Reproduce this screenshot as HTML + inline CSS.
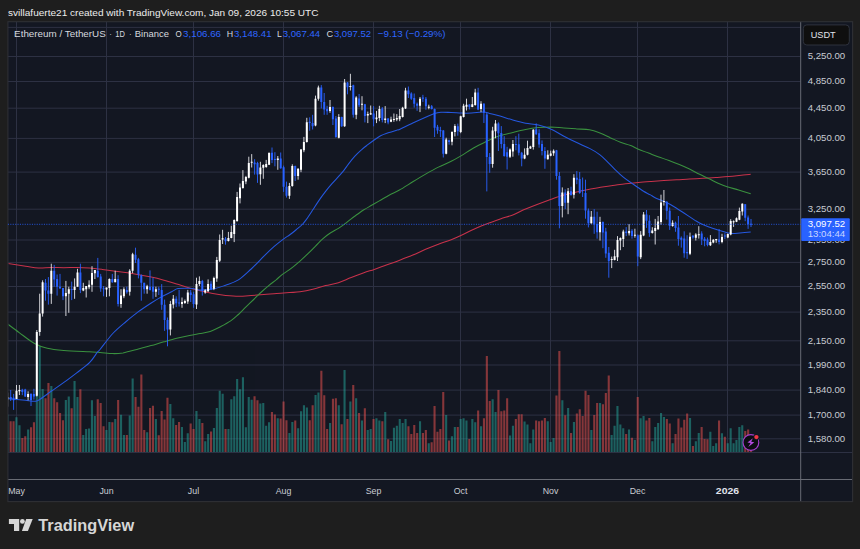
<!DOCTYPE html>
<html><head><meta charset="utf-8"><title>ETHUSDT Chart</title>
<style>html,body{margin:0;padding:0;background:#1e1e1e;width:860px;height:549px;overflow:hidden}</style>
</head><body>
<svg width="860" height="549" viewBox="0 0 860 549" style="position:absolute;left:0;top:0;font-family:'Liberation Sans',sans-serif">
<rect x="0" y="0" width="860" height="549" fill="#1e1e1e"/>
<rect x="7.9" y="21.7" width="844.7" height="479.90000000000003" fill="#131722"/>
<path d="M7.9 27.4H800.7M7.9 56.5H800.7M7.9 81.5H800.7M7.9 108.2H800.7M7.9 138.4H800.7M7.9 172.1H800.7M7.9 209.2H800.7M7.9 240.0H800.7M7.9 262.4H800.7M7.9 286.5H800.7M7.9 312.1H800.7M7.9 340.8H800.7M7.9 365.0H800.7M7.9 390.1H800.7M7.9 415.1H800.7M7.9 438.8H800.7M16.5 21.7V452.5M106.5 21.7V452.5M193.5 21.7V452.5M283.5 21.7V452.5M373.5 21.7V452.5M460.5 21.7V452.5M550.5 21.7V452.5M637.5 21.7V452.5M727.5 21.7V452.5" stroke="#2d3143" stroke-width="1" fill="none"/>
<defs><clipPath id="cc"><rect x="8.4" y="21.7" width="792.3000000000001" height="457.8"/></clipPath></defs>
<g clip-path="url(#cc)" opacity="0.52"><path d="M6.7 414.4h2.1V452h-2.1ZM15.4 417.2h2.1V452h-2.1ZM18.4 425.3h2.1V452h-2.1ZM27.1 429.5h2.1V452h-2.1ZM35.8 390.0h2.1V452h-2.1ZM38.7 345.9h2.1V452h-2.1ZM41.6 389.1h2.1V452h-2.1ZM50.3 386.0h2.1V452h-2.1ZM64.8 400.1h2.1V452h-2.1ZM67.7 396.5h2.1V452h-2.1ZM73.5 381.0h2.1V452h-2.1ZM76.4 397.1h2.1V452h-2.1ZM82.2 435.1h2.1V452h-2.1ZM85.1 429.1h2.1V452h-2.1ZM88.0 428.5h2.1V452h-2.1ZM90.9 400.3h2.1V452h-2.1ZM93.8 415.9h2.1V452h-2.1ZM105.4 430.0h2.1V452h-2.1ZM108.4 422.1h2.1V452h-2.1ZM114.2 419.1h2.1V452h-2.1ZM120.0 414.7h2.1V452h-2.1ZM122.9 434.9h2.1V452h-2.1ZM128.7 415.4h2.1V452h-2.1ZM131.6 378.5h2.1V452h-2.1ZM146.1 432.3h2.1V452h-2.1ZM154.8 419.1h2.1V452h-2.1ZM169.3 403.9h2.1V452h-2.1ZM172.2 418.2h2.1V452h-2.1ZM180.9 426.9h2.1V452h-2.1ZM183.8 441.9h2.1V452h-2.1ZM186.7 433.3h2.1V452h-2.1ZM195.4 411.0h2.1V452h-2.1ZM198.4 419.1h2.1V452h-2.1ZM204.2 441.3h2.1V452h-2.1ZM207.1 434.0h2.1V452h-2.1ZM212.9 428.1h2.1V452h-2.1ZM215.8 408.0h2.1V452h-2.1ZM218.7 390.8h2.1V452h-2.1ZM221.6 393.7h2.1V452h-2.1ZM227.4 429.1h2.1V452h-2.1ZM230.3 399.3h2.1V452h-2.1ZM233.2 396.3h2.1V452h-2.1ZM236.1 379.0h2.1V452h-2.1ZM239.0 389.2h2.1V452h-2.1ZM241.9 377.2h2.1V452h-2.1ZM244.8 427.2h2.1V452h-2.1ZM247.7 397.1h2.1V452h-2.1ZM250.6 399.7h2.1V452h-2.1ZM259.3 403.5h2.1V452h-2.1ZM262.2 402.9h2.1V452h-2.1ZM265.1 425.7h2.1V452h-2.1ZM268.0 422.3h2.1V452h-2.1ZM276.7 418.2h2.1V452h-2.1ZM288.4 433.0h2.1V452h-2.1ZM291.3 422.1h2.1V452h-2.1ZM297.1 428.2h2.1V452h-2.1ZM300.0 411.2h2.1V452h-2.1ZM302.9 405.2h2.1V452h-2.1ZM305.8 407.4h2.1V452h-2.1ZM314.5 395.0h2.1V452h-2.1ZM317.4 392.4h2.1V452h-2.1ZM329.0 423.1h2.1V452h-2.1ZM337.7 405.2h2.1V452h-2.1ZM343.5 370.0h2.1V452h-2.1ZM349.3 401.4h2.1V452h-2.1ZM355.1 398.2h2.1V452h-2.1ZM360.9 420.4h2.1V452h-2.1ZM366.7 430.0h2.1V452h-2.1ZM369.6 429.1h2.1V452h-2.1ZM375.4 418.2h2.1V452h-2.1ZM378.3 420.4h2.1V452h-2.1ZM384.2 411.9h2.1V452h-2.1ZM390.0 440.9h2.1V452h-2.1ZM392.9 427.8h2.1V452h-2.1ZM395.8 425.7h2.1V452h-2.1ZM398.7 419.1h2.1V452h-2.1ZM401.6 423.1h2.1V452h-2.1ZM404.5 419.1h2.1V452h-2.1ZM419.0 421.2h2.1V452h-2.1ZM427.7 443.2h2.1V452h-2.1ZM445.1 415.1h2.1V452h-2.1ZM450.9 436.2h2.1V452h-2.1ZM453.8 426.9h2.1V452h-2.1ZM459.6 419.1h2.1V452h-2.1ZM462.5 418.2h2.1V452h-2.1ZM465.4 420.4h2.1V452h-2.1ZM471.3 419.1h2.1V452h-2.1ZM474.2 422.3h2.1V452h-2.1ZM480.0 426.2h2.1V452h-2.1ZM491.6 399.3h2.1V452h-2.1ZM494.5 412.1h2.1V452h-2.1ZM509.0 435.5h2.1V452h-2.1ZM511.9 425.7h2.1V452h-2.1ZM523.5 421.4h2.1V452h-2.1ZM526.4 424.4h2.1V452h-2.1ZM529.3 443.2h2.1V452h-2.1ZM532.2 429.5h2.1V452h-2.1ZM546.7 421.2h2.1V452h-2.1ZM549.6 441.9h2.1V452h-2.1ZM552.5 438.1h2.1V452h-2.1ZM561.3 400.3h2.1V452h-2.1ZM567.1 408.0h2.1V452h-2.1ZM572.9 422.1h2.1V452h-2.1ZM590.3 430.0h2.1V452h-2.1ZM599.0 402.9h2.1V452h-2.1ZM610.6 434.9h2.1V452h-2.1ZM613.5 425.7h2.1V452h-2.1ZM616.4 406.1h2.1V452h-2.1ZM619.3 424.4h2.1V452h-2.1ZM622.2 428.2h2.1V452h-2.1ZM628.0 429.5h2.1V452h-2.1ZM633.8 440.0h2.1V452h-2.1ZM639.6 418.2h2.1V452h-2.1ZM642.5 416.1h2.1V452h-2.1ZM651.3 441.3h2.1V452h-2.1ZM654.2 426.9h2.1V452h-2.1ZM657.1 423.0h2.1V452h-2.1ZM660.0 413.1h2.1V452h-2.1ZM662.9 417.0h2.1V452h-2.1ZM671.6 443.2h2.1V452h-2.1ZM689.0 417.9h2.1V452h-2.1ZM694.8 441.3h2.1V452h-2.1ZM697.7 433.0h2.1V452h-2.1ZM709.3 431.7h2.1V452h-2.1ZM712.2 446.0h2.1V452h-2.1ZM715.1 443.2h2.1V452h-2.1ZM720.9 433.3h2.1V452h-2.1ZM726.7 443.2h2.1V452h-2.1ZM729.6 428.2h2.1V452h-2.1ZM732.5 443.2h2.1V452h-2.1ZM735.4 440.0h2.1V452h-2.1ZM738.3 426.9h2.1V452h-2.1ZM741.2 425.3h2.1V452h-2.1Z" fill="#26a69a"/><path d="M9.6 421.2h2.1V452h-2.1ZM12.5 421.2h2.1V452h-2.1ZM21.3 438.1h2.1V452h-2.1ZM24.2 436.2h2.1V452h-2.1ZM30.0 427.2h2.1V452h-2.1ZM32.9 422.3h2.1V452h-2.1ZM44.5 398.2h2.1V452h-2.1ZM47.4 383.0h2.1V452h-2.1ZM53.2 398.2h2.1V452h-2.1ZM56.1 402.3h2.1V452h-2.1ZM59.0 413.1h2.1V452h-2.1ZM61.9 420.2h2.1V452h-2.1ZM70.6 408.3h2.1V452h-2.1ZM79.3 389.2h2.1V452h-2.1ZM96.7 399.3h2.1V452h-2.1ZM99.6 402.9h2.1V452h-2.1ZM102.5 426.2h2.1V452h-2.1ZM111.3 422.3h2.1V452h-2.1ZM117.1 400.1h2.1V452h-2.1ZM125.8 434.9h2.1V452h-2.1ZM134.5 397.1h2.1V452h-2.1ZM137.4 406.7h2.1V452h-2.1ZM140.3 374.6h2.1V452h-2.1ZM143.2 430.0h2.1V452h-2.1ZM149.0 408.0h2.1V452h-2.1ZM151.9 405.8h2.1V452h-2.1ZM157.7 435.3h2.1V452h-2.1ZM160.6 411.0h2.1V452h-2.1ZM163.5 419.5h2.1V452h-2.1ZM166.4 397.8h2.1V452h-2.1ZM175.1 425.0h2.1V452h-2.1ZM178.0 422.1h2.1V452h-2.1ZM189.6 423.4h2.1V452h-2.1ZM192.5 429.1h2.1V452h-2.1ZM201.3 423.0h2.1V452h-2.1ZM210.0 431.4h2.1V452h-2.1ZM224.5 429.1h2.1V452h-2.1ZM253.5 396.3h2.1V452h-2.1ZM256.4 400.3h2.1V452h-2.1ZM270.9 411.9h2.1V452h-2.1ZM273.8 414.4h2.1V452h-2.1ZM279.6 418.5h2.1V452h-2.1ZM282.5 401.4h2.1V452h-2.1ZM285.4 420.2h2.1V452h-2.1ZM294.2 420.4h2.1V452h-2.1ZM308.7 420.2h2.1V452h-2.1ZM311.6 405.2h2.1V452h-2.1ZM320.3 370.8h2.1V452h-2.1ZM323.2 395.2h2.1V452h-2.1ZM326.1 429.1h2.1V452h-2.1ZM331.9 398.8h2.1V452h-2.1ZM334.8 398.2h2.1V452h-2.1ZM340.6 424.3h2.1V452h-2.1ZM346.4 419.1h2.1V452h-2.1ZM352.2 385.1h2.1V452h-2.1ZM358.0 413.1h2.1V452h-2.1ZM363.8 408.3h2.1V452h-2.1ZM372.5 419.1h2.1V452h-2.1ZM381.3 421.2h2.1V452h-2.1ZM387.1 439.3h2.1V452h-2.1ZM407.4 426.2h2.1V452h-2.1ZM410.3 434.0h2.1V452h-2.1ZM413.2 425.0h2.1V452h-2.1ZM416.1 433.0h2.1V452h-2.1ZM421.9 433.0h2.1V452h-2.1ZM424.8 430.0h2.1V452h-2.1ZM430.6 442.2h2.1V452h-2.1ZM433.5 406.1h2.1V452h-2.1ZM436.4 431.7h2.1V452h-2.1ZM439.3 429.1h2.1V452h-2.1ZM442.2 392.0h2.1V452h-2.1ZM448.0 440.6h2.1V452h-2.1ZM456.7 426.9h2.1V452h-2.1ZM468.3 439.0h2.1V452h-2.1ZM477.1 410.6h2.1V452h-2.1ZM482.9 418.2h2.1V452h-2.1ZM485.8 356.0h2.1V452h-2.1ZM488.7 401.0h2.1V452h-2.1ZM497.4 390.1h2.1V452h-2.1ZM500.3 411.2h2.1V452h-2.1ZM503.2 410.6h2.1V452h-2.1ZM506.1 398.2h2.1V452h-2.1ZM514.8 419.1h2.1V452h-2.1ZM517.7 414.2h2.1V452h-2.1ZM520.6 414.2h2.1V452h-2.1ZM535.1 420.4h2.1V452h-2.1ZM538.0 421.2h2.1V452h-2.1ZM540.9 420.4h2.1V452h-2.1ZM543.8 417.9h2.1V452h-2.1ZM555.4 395.5h2.1V452h-2.1ZM558.3 350.9h2.1V452h-2.1ZM564.2 415.3h2.1V452h-2.1ZM570.0 433.0h2.1V452h-2.1ZM575.8 413.4h2.1V452h-2.1ZM578.7 409.3h2.1V452h-2.1ZM581.6 416.1h2.1V452h-2.1ZM584.5 390.8h2.1V452h-2.1ZM587.4 395.0h2.1V452h-2.1ZM593.2 415.1h2.1V452h-2.1ZM596.1 402.9h2.1V452h-2.1ZM601.9 404.2h2.1V452h-2.1ZM604.8 393.1h2.1V452h-2.1ZM607.7 375.4h2.1V452h-2.1ZM625.1 434.0h2.1V452h-2.1ZM630.9 437.8h2.1V452h-2.1ZM636.7 397.1h2.1V452h-2.1ZM645.4 420.4h2.1V452h-2.1ZM648.3 417.9h2.1V452h-2.1ZM665.8 419.1h2.1V452h-2.1ZM668.7 423.6h2.1V452h-2.1ZM674.5 434.0h2.1V452h-2.1ZM677.4 418.5h2.1V452h-2.1ZM680.3 427.6h2.1V452h-2.1ZM683.2 419.8h2.1V452h-2.1ZM686.1 413.4h2.1V452h-2.1ZM691.9 446.0h2.1V452h-2.1ZM700.6 426.9h2.1V452h-2.1ZM703.5 439.1h2.1V452h-2.1ZM706.4 439.3h2.1V452h-2.1ZM718.0 420.4h2.1V452h-2.1ZM723.8 436.8h2.1V452h-2.1ZM744.2 431.0h2.1V452h-2.1ZM747.1 429.4h2.1V452h-2.1ZM750.0 441.3h2.1V452h-2.1Z" fill="#ef5350"/></g>

<g clip-path="url(#cc)"><path d="M7.7 263.4C10.7 263.9 20.5 265.4 25.6 266.2C30.7 266.9 34.1 267.7 38.4 267.9C42.7 268.1 47.0 267.5 51.2 267.5C55.5 267.5 59.6 267.7 63.9 267.7C68.2 267.7 72.4 267.5 76.7 267.5C81.0 267.5 85.2 267.6 89.5 267.9C93.8 268.2 98.0 268.8 102.3 269.4C106.6 270.0 110.3 270.6 115.3 271.3C120.2 272.0 126.0 272.5 132.0 273.5C138.0 274.5 145.9 276.0 151.2 277.1C156.5 278.2 159.7 279.1 163.9 280.3C168.2 281.5 172.4 282.8 176.7 284.1C181.0 285.4 185.6 286.9 189.5 288.0C193.4 289.1 196.1 289.9 200.0 290.8C203.9 291.7 208.5 292.7 212.8 293.5C217.1 294.3 221.3 294.9 225.6 295.4C229.9 295.8 234.1 296.2 238.4 296.2C242.7 296.2 246.9 295.8 251.2 295.5C255.4 295.2 259.6 294.9 263.9 294.6C268.1 294.3 272.4 293.8 276.7 293.5C281.0 293.2 285.6 292.9 289.5 292.6C293.4 292.3 296.1 292.4 300.0 291.8C303.9 291.2 308.5 290.3 312.8 289.3C317.1 288.3 321.3 286.7 325.6 285.6C329.9 284.5 334.1 284.0 338.4 282.7C342.7 281.4 346.9 279.2 351.2 277.6C355.4 276.0 360.1 274.2 363.9 272.8C367.7 271.4 370.8 270.6 374.2 269.4C377.6 268.2 380.6 267.2 384.4 265.8C388.2 264.4 392.5 263.0 397.2 261.2C401.9 259.4 408.1 257.1 412.8 255.1C417.5 253.1 421.3 251.1 425.6 249.3C429.9 247.5 434.1 245.8 438.4 244.2C442.7 242.6 447.4 241.3 451.2 239.8C455.0 238.3 458.0 236.9 461.4 235.3C464.8 233.7 468.2 231.8 471.6 230.2C475.0 228.6 478.4 227.1 481.8 225.7C485.2 224.3 488.9 223.1 492.1 221.9C495.3 220.8 497.6 220.0 501.0 218.8C504.4 217.6 508.7 216.5 512.8 214.9C516.9 213.3 521.3 210.9 525.6 209.1C529.9 207.3 534.1 205.6 538.4 204.0C542.7 202.4 547.0 200.8 551.2 199.3C555.5 197.8 559.6 196.3 563.9 195.1C568.1 193.9 572.4 192.9 576.7 191.9C581.0 190.9 585.2 190.1 589.5 189.3C593.8 188.5 598.4 187.6 602.3 187.0C606.2 186.4 608.9 186.0 612.8 185.5C616.7 185.0 621.3 184.3 625.6 183.8C629.9 183.3 634.1 182.9 638.4 182.5C642.7 182.1 647.0 181.8 651.2 181.5C655.5 181.2 659.6 180.9 663.9 180.6C668.1 180.3 672.4 180.1 676.7 179.8C681.0 179.6 685.1 179.3 689.5 179.1C693.9 178.8 698.4 178.6 702.8 178.3C707.1 178.0 711.3 177.8 715.6 177.5C719.9 177.2 724.1 177.0 728.4 176.6C732.7 176.2 737.5 175.7 741.2 175.3C744.9 174.9 749.1 174.5 750.7 174.3" stroke="#c8324b" stroke-width="1.05" fill="none" stroke-linejoin="round"/>
<path d="M7.7 324.0C9.6 325.4 14.7 329.4 19.2 332.6C23.7 335.9 29.8 340.9 34.5 343.5C39.2 346.1 42.4 347.1 47.3 348.3C52.2 349.5 56.9 349.9 63.9 350.5C70.9 351.1 83.5 351.5 89.5 351.8C95.5 352.1 96.1 352.1 100.0 352.4C103.9 352.7 109.0 353.5 112.8 353.6C116.6 353.7 118.7 353.6 123.0 352.9C127.3 352.1 133.7 350.3 138.4 349.1C143.1 347.9 146.9 346.8 151.2 345.6C155.4 344.4 159.7 343.0 163.9 341.8C168.2 340.6 172.4 339.4 176.7 338.3C181.0 337.2 185.6 336.2 189.5 335.4C193.4 334.6 196.6 334.2 200.0 333.6C203.4 333.0 206.8 332.6 210.2 331.5C213.6 330.4 217.1 328.5 220.5 326.7C223.9 324.9 227.7 322.9 230.7 320.9C233.7 318.9 235.8 316.8 238.4 314.5C241.0 312.2 243.4 309.4 246.0 306.9C248.6 304.4 251.1 302.0 253.7 299.5C256.3 297.0 258.8 294.4 261.4 292.0C263.9 289.6 266.6 287.3 269.0 285.3C271.4 283.3 274.0 281.6 276.1 279.9C278.2 278.1 279.6 276.5 281.8 274.8C284.0 273.1 286.5 271.9 289.5 269.6C292.5 267.4 296.7 263.9 299.7 261.3C302.7 258.7 305.1 256.4 307.7 253.9C310.3 251.4 312.8 248.9 315.3 246.3C317.9 243.8 320.4 240.8 323.0 238.6C325.6 236.3 328.1 234.5 330.7 232.8C333.3 231.1 336.0 229.9 338.4 228.4C340.8 226.9 342.7 225.5 344.8 223.9C346.9 222.3 349.1 220.4 351.2 218.8C353.3 217.2 355.4 215.8 357.5 214.3C359.6 212.8 361.5 211.3 363.9 209.8C366.2 208.3 369.0 206.8 371.6 205.3C374.2 203.8 376.3 202.6 379.3 200.9C382.3 199.2 386.2 196.8 389.5 195.0C392.8 193.2 395.1 192.5 399.0 190.3C402.9 188.1 408.4 184.5 412.8 181.8C417.2 179.1 421.3 176.6 425.6 174.1C429.9 171.6 434.1 169.2 438.4 167.1C442.7 165.0 447.4 163.2 451.2 161.3C455.0 159.4 458.0 157.6 461.4 155.6C464.8 153.6 468.2 151.2 471.6 149.2C475.0 147.2 478.8 145.3 481.8 143.8C484.8 142.3 486.5 141.3 489.5 140.0C492.5 138.7 495.8 137.1 499.7 135.8C503.6 134.5 508.5 133.5 512.8 132.4C517.1 131.3 521.3 130.2 525.6 129.4C529.9 128.6 534.1 128.0 538.4 127.6C542.7 127.2 547.0 126.9 551.2 126.9C555.5 127.0 559.6 127.6 563.9 127.9C568.1 128.2 572.4 128.6 576.7 128.9C581.0 129.2 585.6 129.1 589.5 129.8C593.4 130.5 596.5 131.7 600.0 133.0C603.5 134.3 606.8 136.1 610.2 137.7C613.6 139.2 617.1 141.0 620.5 142.3C623.9 143.6 627.7 144.3 630.7 145.5C633.7 146.7 635.4 148.0 638.4 149.3C641.4 150.6 645.2 151.8 648.6 153.1C652.0 154.4 655.4 155.8 658.8 157.0C662.2 158.2 665.6 159.2 669.0 160.5C672.4 161.8 675.9 163.2 679.3 164.6C682.7 166.0 686.1 167.5 689.5 169.1C692.9 170.7 696.4 172.7 699.7 174.3C703.0 175.9 706.1 177.3 709.2 178.8C712.3 180.3 715.1 182.0 718.1 183.3C721.1 184.6 723.7 185.7 727.1 186.8C730.5 187.9 734.7 188.8 738.6 189.9C742.5 191.1 748.7 193.1 750.7 193.7" stroke="#3a913f" stroke-width="1.05" fill="none" stroke-linejoin="round"/>
<path d="M7.7 398.4C9.2 398.6 13.6 399.1 16.6 399.4C19.6 399.7 22.6 400.0 25.6 400.3C28.6 400.6 32.4 401.2 34.5 401.2C36.6 401.2 35.6 401.9 38.4 400.3C41.2 398.7 47.0 394.3 51.2 391.3C55.5 388.3 59.6 385.5 63.9 382.4C68.2 379.3 72.4 376.1 76.7 372.8C81.0 369.5 86.1 366.1 89.5 362.7C92.9 359.3 95.5 354.6 97.2 352.4C99.0 350.2 97.4 352.6 100.0 349.5C102.6 346.4 108.5 338.1 112.8 333.5C117.1 328.9 121.3 325.6 125.6 322.0C129.9 318.4 134.1 314.9 138.4 311.7C142.7 308.5 147.4 305.5 151.2 303.0C155.0 300.5 158.0 298.8 161.4 296.9C164.8 295.0 168.8 293.2 171.6 291.8C174.4 290.4 175.0 289.2 178.0 288.6C181.0 288.0 186.8 288.3 189.5 288.3C192.2 288.3 192.2 288.5 194.0 288.8C195.8 289.1 196.7 290.1 200.0 290.1C203.3 290.1 209.8 289.6 214.1 288.8C218.4 288.0 221.5 286.7 225.6 285.2C229.7 283.7 234.1 282.6 238.4 279.9C242.7 277.2 246.9 272.9 251.2 269.0C255.4 265.1 260.1 260.0 263.9 256.2C267.7 252.4 270.8 249.4 274.2 246.4C277.6 243.4 281.8 240.2 284.4 238.3C286.9 236.4 287.6 236.4 289.5 235.0C291.4 233.6 293.8 231.8 295.9 230.0C298.0 228.2 300.6 226.3 302.3 224.5C304.1 222.7 304.6 221.8 306.4 219.4C308.1 217.0 310.7 213.0 312.8 209.8C314.9 206.6 317.1 203.2 319.2 200.1C321.3 197.0 323.5 194.1 325.6 191.4C327.7 188.7 329.9 186.1 332.0 183.7C334.1 181.2 336.5 178.8 338.4 176.7C340.3 174.6 341.8 173.0 343.5 170.9C345.2 168.8 346.7 166.4 348.6 163.9C350.5 161.4 352.8 158.5 354.9 156.2C357.0 153.8 359.2 151.7 361.4 149.8C363.5 147.9 365.7 146.3 367.8 144.7C369.9 143.1 372.1 141.5 374.2 140.0C376.3 138.5 378.3 137.0 380.6 135.8C382.9 134.6 385.4 133.8 388.2 132.8C391.0 131.8 395.2 130.6 397.2 130.0C399.2 129.4 397.4 130.5 400.0 129.3C402.6 128.1 408.5 125.0 412.8 123.0C417.1 121.0 422.0 118.8 425.6 117.2C429.2 115.6 431.9 114.2 434.5 113.4C437.1 112.6 438.1 112.5 440.9 112.3C443.7 112.1 447.8 112.4 451.2 112.5C454.6 112.6 458.0 113.0 461.4 113.1C464.8 113.2 468.6 113.2 471.6 113.1C474.6 113.0 477.2 112.5 479.3 112.3C481.4 112.1 482.7 111.9 484.4 112.1C486.1 112.3 486.9 112.7 489.5 113.4C492.1 114.1 496.1 115.0 500.0 116.1C503.9 117.2 508.5 118.8 512.8 120.0C517.1 121.2 521.3 122.4 525.6 123.2C529.9 124.0 534.1 124.1 538.4 125.1C542.7 126.1 547.0 127.3 551.2 129.2C555.5 131.0 559.6 134.0 563.9 136.2C568.1 138.4 572.4 140.6 576.7 142.6C581.0 144.6 585.6 146.4 589.5 148.4C593.4 150.4 597.0 152.5 600.0 154.8C603.0 157.1 605.2 159.6 607.7 162.1C610.2 164.6 612.8 167.4 615.3 169.8C617.8 172.2 620.4 174.7 623.0 176.8C625.6 178.9 628.1 180.7 630.7 182.5C633.3 184.3 636.3 186.2 638.4 187.7C640.5 189.2 641.5 190.1 643.5 191.3C645.5 192.5 648.5 193.8 650.5 194.9C652.5 196.0 652.6 196.5 655.6 197.9C658.6 199.3 664.1 201.3 668.4 203.5C672.7 205.7 677.0 208.6 681.2 211.3C685.5 214.0 690.5 217.5 693.9 219.6C697.3 221.7 698.6 222.7 701.6 224.1C704.6 225.5 708.8 226.8 711.8 227.9C714.8 229.0 716.9 229.7 719.5 230.5C722.1 231.3 725.1 232.2 727.2 232.7C729.3 233.2 730.2 233.4 732.3 233.5C734.4 233.6 736.9 233.3 740.0 233.1C743.1 232.9 748.9 232.3 750.7 232.1" stroke="#2558e0" stroke-width="1.05" fill="none" stroke-linejoin="round"/>
</g>
<g clip-path="url(#cc)"><path d="M10.7 390.0V401.0M13.6 393.9V409.9M22.3 388.8V395.2M25.2 388.8V397.0M31.0 393.2V406.0M33.9 388.8V399.6M45.5 279.0V300.7M48.4 277.1V304.6M54.2 264.9V286.7M57.1 274.5V295.6M60.0 273.9V288.6M63.0 288.0V300.1M71.7 281.6V300.1M80.4 263.7V293.1M97.8 257.9V277.7M100.7 273.9V291.8M103.6 286.0V296.3M112.3 273.9V282.8M118.1 275.2V306.5M126.8 286.7V293.7M135.5 247.7V263.0M138.4 257.9V278.4M141.3 274.5V300.7M144.2 282.8V293.7M150.0 270.4V290.5M153.0 277.7V298.8M158.8 286.7V295.0M161.7 284.1V309.8M164.6 299.6V330.9M167.5 317.5V346.3M176.2 296.3V307.1M179.1 289.9V306.5M190.7 289.9V302.0M193.6 291.8V307.8M202.3 279.9V295.6M211.0 281.2V290.1M225.5 237.0V244.7M254.6 159.2V174.6M257.5 161.8V182.9M272.0 147.5V163.1M274.9 152.2V166.3M280.7 152.5V168.8M283.6 165.6V191.9M286.5 181.6V197.6M295.2 165.6V181.0M309.7 117.3V130.7M312.6 114.8V129.5M321.3 85.1V108.4M324.2 93.0V114.8M327.1 105.8V114.8M332.9 106.4V125.0M335.9 116.0V137.8M341.7 116.7V126.9M347.5 82.1V94.3M353.3 84.7V117.6M359.1 94.0V107.1M364.9 103.9V122.4M373.6 106.1V126.3M382.3 107.1V122.4M388.1 118.0V124.3M408.4 86.5V98.0M411.3 92.3V99.9M414.2 93.5V107.6M417.1 102.5V110.8M422.9 94.8V101.9M425.9 97.0V109.8M431.7 105.0V109.5M434.6 108.5V137.0M437.5 124.9V133.8M440.4 126.8V137.0M443.3 130.0V157.5M449.1 139.6V144.7M457.8 123.6V135.7M469.4 104.2V109.5M478.1 87.8V110.2M483.9 103.1V123.0M486.8 112.7V191.4M489.7 153.0V172.8M498.4 122.3V151.0M501.3 126.1V148.4M504.2 136.2V156.7M507.1 146.8V169.5M515.9 136.2V150.3M518.8 133.7V155.4M521.7 151.9V166.3M536.2 123.4V134.9M539.1 129.2V147.7M542.0 140.4V155.4M544.9 147.1V168.8M556.5 149.9V179.7M559.4 172.0V228.3M565.2 189.3V209.1M571.0 186.7V195.7M576.8 171.1V184.2M579.7 172.0V193.8M582.6 177.5V197.0M585.5 179.7V218.7M588.4 208.5V227.4M594.2 209.1V233.8M597.1 211.7V238.7M602.9 221.4V248.2M605.8 227.8V257.8M608.8 247.0V277.7M626.2 227.1V236.1M632.0 229.1V238.7M637.8 234.3V266.2M646.5 210.0V227.9M649.4 215.2V236.8M666.8 201.1V219.6M669.7 207.5V229.9M675.5 221.6V231.8M678.4 216.0V245.7M681.3 236.4V247.6M684.2 231.3V257.7M687.1 235.2V258.9M692.9 235.0V238.8M701.7 231.3V245.0M704.6 237.0V246.3M707.5 237.6V246.3M719.1 229.0V244.4M724.9 233.2V239.0M745.2 204.0V221.2M748.1 215.5V228.9M751.0 219.0V227.0" stroke="#2962ff" stroke-width="0.9" fill="none"/>
<path d="M7.8 392.6V406.7M16.5 385.0V399.0M19.4 385.0V395.0M28.1 391.3V400.3M36.8 330.0V396.5M39.7 293.7V335.8M42.6 280.3V316.6M51.3 263.7V303.9M65.9 280.9V316.0M68.8 286.7V312.8M74.6 278.4V298.8M77.5 268.8V286.7M83.3 282.8V291.2M86.2 286.0V297.5M89.1 280.3V289.2M92.0 266.2V291.8M94.9 270.0V279.0M106.5 287.6V296.9M109.4 278.4V296.3M115.2 270.7V282.2M121.0 289.2V307.8M123.9 287.3V298.2M129.7 269.2V295.6M132.6 252.8V273.2M147.1 284.8V293.7M155.9 286.7V296.9M170.4 300.9V335.4M173.3 295.0V308.4M182.0 297.5V307.8M184.9 299.5V303.9M187.8 289.9V303.9M196.5 277.7V309.0M199.4 276.4V286.0M205.2 289.2V293.7M208.1 279.4V292.0M213.9 276.7V290.1M216.8 256.9V281.8M219.7 234.5V262.0M222.6 229.8V244.0M228.4 231.9V241.5M231.3 225.7V238.3M234.2 219.4V242.1M237.1 191.9V221.3M240.0 183.5V203.4M242.9 170.1V188.7M245.9 175.9V184.2M248.8 156.7V178.4M251.7 154.1V167.5M260.4 161.8V184.8M263.3 164.3V178.8M266.2 159.9V167.8M269.1 152.8V165.0M277.8 156.0V169.8M289.4 182.9V198.9M292.3 164.3V186.7M298.1 168.2V179.7M301.0 149.0V172.2M303.9 136.9V152.2M306.8 117.8V142.6M315.5 95.6V126.3M318.4 85.6V100.7M330.0 100.0V112.8M338.8 114.1V138.4M344.6 79.0V126.9M350.4 73.8V90.5M356.2 96.2V119.2M362.0 96.2V110.3M367.8 111.6V123.1M370.7 105.5V114.8M376.5 110.9V123.1M379.4 105.8V121.2M385.2 106.1V123.1M391.0 116.7V122.2M393.9 113.5V121.8M396.8 114.1V121.2M399.7 109.0V121.2M402.6 106.8V117.5M405.5 87.8V109.0M420.0 97.0V112.1M428.8 104.7V109.3M446.2 137.7V154.3M452.0 131.3V145.3M454.9 124.2V136.4M460.7 115.7V133.2M463.6 103.8V117.5M466.5 98.7V110.5M472.3 97.0V107.2M475.2 88.8V105.7M481.0 101.2V112.1M492.6 126.8V167.7M495.5 120.0V138.3M510.0 148.4V158.0M512.9 140.0V156.7M524.6 148.4V159.2M527.5 140.7V155.4M530.4 145.8V149.0M533.3 129.2V149.6M547.8 150.3V159.6M550.7 150.7V156.3M553.6 149.4V155.8M562.3 187.4V217.4M568.1 188.0V214.2M573.9 174.2V198.5M591.3 211.0V223.8M600.0 216.8V240.6M611.7 256.6V268.1M614.6 249.8V260.4M617.5 236.1V261.0M620.4 237.4V250.2M623.3 229.7V247.0M629.1 224.0V235.5M634.9 228.7V237.7M640.7 231.1V259.1M643.6 212.0V236.2M652.3 227.2V233.6M655.2 218.9V244.5M658.1 216.0V229.8M661.0 194.7V224.7M663.9 190.0V205.6M672.6 220.3V226.7M690.0 232.6V255.1M695.8 233.2V240.5M698.8 226.2V238.6M710.4 235.1V246.0M713.3 239.1V243.3M716.2 238.9V242.8M722.0 233.8V243.3M727.8 233.5V238.2M730.7 219.2V235.3M733.6 220.4V226.9M736.5 217.4V222.1M739.4 207.6V220.2M742.3 203.3V215.5" stroke="#e8e8ec" stroke-width="0.9" fill="none"/>
<path d="M9.7 397.0h2V399.6h-2ZM12.6 397.7h2V400.3h-2ZM21.3 389.7h2V392.0h-2ZM24.2 389.4h2V396.4h-2ZM30.0 394.0h2V400.0h-2ZM32.9 393.9h2V396.4h-2ZM44.5 282.8h2V290.5h-2ZM47.4 290.5h2V293.7h-2ZM53.2 270.7h2V279.6h-2ZM56.1 279.0h2V286.7h-2ZM59.0 286.7h2V288.6h-2ZM62.0 288.0h2V296.3h-2ZM70.7 289.1h2V290.1h-2ZM79.4 272.6h2V289.9h-2ZM96.8 270.7h2V277.1h-2ZM99.7 276.4h2V288.6h-2ZM102.6 288.2h2V289.2h-2ZM111.3 279.0h2V282.2h-2ZM117.1 279.0h2V303.9h-2ZM125.8 289.9h2V292.2h-2ZM134.5 254.7h2V259.8h-2ZM137.4 259.2h2V274.5h-2ZM140.3 275.2h2V282.8h-2ZM143.2 282.8h2V289.2h-2ZM149.0 286.7h2V289.9h-2ZM152.0 286.7h2V291.8h-2ZM157.8 288.8h2V289.8h-2ZM160.7 289.9h2V304.7h-2ZM163.6 304.7h2V320.0h-2ZM166.5 320.0h2V329.6h-2ZM175.2 298.8h2V303.3h-2ZM178.1 302.5h2V303.5h-2ZM189.7 292.4h2V295.0h-2ZM192.6 294.3h2V303.9h-2ZM201.3 280.9h2V291.0h-2ZM210.0 283.7h2V289.5h-2ZM224.5 238.7h2V241.3h-2ZM253.6 162.4h2V164.3h-2ZM256.5 163.0h2V174.6h-2ZM271.0 152.8h2V159.9h-2ZM273.9 158.9h2V159.9h-2ZM279.7 158.6h2V168.2h-2ZM282.6 167.2h2V186.7h-2ZM285.5 186.7h2V195.7h-2ZM294.2 166.1h2V175.9h-2ZM308.7 121.8h2V123.0h-2ZM311.6 123.0h2V126.3h-2ZM320.3 87.6h2V102.0h-2ZM323.2 102.0h2V109.6h-2ZM326.1 109.0h2V111.2h-2ZM331.9 107.1h2V119.2h-2ZM334.9 118.6h2V137.1h-2ZM340.7 117.1h2V126.3h-2ZM346.5 82.5h2V87.3h-2ZM352.3 85.3h2V114.8h-2ZM358.1 98.4h2V105.2h-2ZM363.9 104.3h2V116.0h-2ZM372.6 113.5h2V119.2h-2ZM381.3 108.6h2V119.9h-2ZM387.1 118.6h2V122.4h-2ZM407.4 90.4h2V94.2h-2ZM410.3 93.5h2V98.7h-2ZM413.2 98.0h2V103.8h-2ZM416.1 103.8h2V105.7h-2ZM421.9 97.4h2V98.7h-2ZM424.9 98.7h2V106.3h-2ZM430.7 106.3h2V108.9h-2ZM433.6 108.9h2V127.7h-2ZM436.5 126.8h2V130.6h-2ZM439.4 130.0h2V131.3h-2ZM442.3 130.6h2V153.7h-2ZM448.1 140.2h2V142.1h-2ZM456.8 126.2h2V131.3h-2ZM468.4 104.4h2V107.0h-2ZM477.1 92.6h2V109.5h-2ZM482.9 103.8h2V112.7h-2ZM485.8 114.6h2V156.9h-2ZM488.7 156.9h2V163.9h-2ZM497.4 123.6h2V133.2h-2ZM500.3 133.0h2V144.0h-2ZM503.2 144.0h2V156.1h-2ZM506.1 152.3h2V156.8h-2ZM514.9 143.9h2V144.9h-2ZM517.8 144.3h2V152.8h-2ZM520.7 152.8h2V158.6h-2ZM535.2 129.2h2V134.3h-2ZM538.1 133.3h2V144.5h-2ZM541.0 143.9h2V150.9h-2ZM543.9 150.9h2V158.6h-2ZM555.5 150.3h2V176.1h-2ZM558.4 175.9h2V205.9h-2ZM564.2 192.5h2V202.7h-2ZM570.0 191.2h2V195.0h-2ZM575.8 177.8h2V179.7h-2ZM578.7 179.1h2V193.1h-2ZM581.6 189.9h2V190.9h-2ZM584.5 193.1h2V210.4h-2ZM587.4 210.4h2V223.2h-2ZM593.2 216.8h2V224.5h-2ZM596.1 223.9h2V232.3h-2ZM601.9 222.0h2V232.5h-2ZM604.8 231.6h2V253.4h-2ZM607.8 252.7h2V261.0h-2ZM625.2 231.4h2V232.9h-2ZM631.0 230.8h2V235.9h-2ZM636.8 235.2h2V256.6h-2ZM645.5 214.5h2V220.8h-2ZM648.4 220.8h2V233.0h-2ZM665.8 201.7h2V210.7h-2ZM668.7 210.7h2V226.0h-2ZM674.5 222.8h2V228.0h-2ZM677.4 227.5h2V239.0h-2ZM680.3 237.7h2V239.7h-2ZM683.2 238.4h2V253.2h-2ZM686.1 251.9h2V253.2h-2ZM691.9 235.7h2V237.4h-2ZM700.7 233.5h2V239.6h-2ZM703.6 238.8h2V240.9h-2ZM706.5 239.6h2V245.0h-2ZM718.1 239.6h2V242.0h-2ZM723.9 235.5h2V236.5h-2ZM744.2 204.2h2V217.8h-2ZM747.1 217.4h2V224.2h-2ZM750.0 223.8h2V224.8h-2Z" fill="#2962ff"/>
<path d="M6.8 397.0h2V399.6h-2ZM15.5 390.7h2V399.0h-2ZM18.4 390.0h2V391.3h-2ZM27.1 393.9h2V397.0h-2ZM35.8 332.0h2V395.8h-2ZM38.7 313.4h2V332.0h-2ZM41.6 282.2h2V313.4h-2ZM50.3 270.7h2V293.7h-2ZM64.9 293.1h2V296.3h-2ZM67.8 289.2h2V293.7h-2ZM73.6 286.7h2V289.9h-2ZM76.5 272.6h2V286.7h-2ZM82.3 288.0h2V290.5h-2ZM85.2 286.0h2V289.2h-2ZM88.1 284.8h2V287.3h-2ZM91.0 273.0h2V284.8h-2ZM93.9 270.0h2V273.2h-2ZM105.5 287.6h2V289.6h-2ZM108.4 279.0h2V288.0h-2ZM114.2 279.0h2V282.2h-2ZM120.0 295.6h2V303.9h-2ZM122.9 289.2h2V296.3h-2ZM128.7 270.7h2V291.8h-2ZM131.6 254.3h2V270.7h-2ZM146.1 286.3h2V289.2h-2ZM154.9 289.2h2V291.8h-2ZM169.4 304.0h2V329.6h-2ZM172.3 298.8h2V304.6h-2ZM181.0 302.0h2V303.9h-2ZM183.9 301.1h2V302.9h-2ZM186.8 292.4h2V301.4h-2ZM195.5 284.1h2V304.6h-2ZM198.4 280.9h2V284.1h-2ZM204.2 290.3h2V292.5h-2ZM207.1 283.9h2V291.3h-2ZM212.9 278.0h2V288.8h-2ZM215.8 260.0h2V278.6h-2ZM218.7 240.0h2V260.7h-2ZM221.6 238.3h2V239.6h-2ZM227.4 237.9h2V240.9h-2ZM230.3 232.0h2V237.9h-2ZM233.2 220.0h2V234.0h-2ZM236.1 197.0h2V221.3h-2ZM239.0 187.4h2V198.2h-2ZM241.9 181.0h2V188.0h-2ZM244.9 177.1h2V181.6h-2ZM247.8 163.1h2V177.8h-2ZM250.7 161.8h2V162.8h-2ZM259.4 167.5h2V174.3h-2ZM262.3 165.0h2V167.8h-2ZM265.2 164.0h2V166.9h-2ZM268.1 152.8h2V164.7h-2ZM276.8 158.6h2V159.9h-2ZM288.4 186.1h2V195.7h-2ZM291.3 166.1h2V186.1h-2ZM297.1 168.8h2V175.9h-2ZM300.0 149.6h2V169.8h-2ZM302.9 142.0h2V150.3h-2ZM305.8 122.2h2V142.0h-2ZM314.5 98.8h2V125.6h-2ZM317.4 87.6h2V98.8h-2ZM329.0 107.1h2V110.9h-2ZM337.8 117.1h2V137.8h-2ZM343.6 82.5h2V126.3h-2ZM349.4 86.0h2V87.0h-2ZM355.2 97.5h2V114.8h-2ZM361.0 103.8h2V104.8h-2ZM366.8 114.1h2V115.4h-2ZM369.7 113.2h2V114.5h-2ZM375.5 117.6h2V119.2h-2ZM378.4 109.0h2V118.0h-2ZM384.2 118.6h2V119.9h-2ZM390.0 119.6h2V121.8h-2ZM392.9 119.0h2V120.0h-2ZM395.8 118.0h2V119.6h-2ZM398.7 116.0h2V119.2h-2ZM401.6 107.7h2V116.9h-2ZM404.5 90.4h2V108.4h-2ZM419.0 98.7h2V105.7h-2ZM427.8 106.7h2V107.7h-2ZM445.2 139.6h2V153.7h-2ZM451.0 131.9h2V141.8h-2ZM453.9 125.9h2V131.9h-2ZM459.7 116.2h2V131.9h-2ZM462.6 105.7h2V116.9h-2ZM465.5 104.7h2V106.7h-2ZM471.3 104.2h2V107.0h-2ZM474.2 92.6h2V105.1h-2ZM480.0 103.8h2V108.9h-2ZM491.6 130.6h2V163.9h-2ZM494.5 123.6h2V131.3h-2ZM509.0 149.4h2V156.8h-2ZM511.9 143.9h2V151.6h-2ZM523.6 154.8h2V158.6h-2ZM526.5 148.1h2V154.8h-2ZM529.4 146.4h2V148.4h-2ZM532.3 129.8h2V147.1h-2ZM546.8 154.8h2V159.2h-2ZM549.7 153.5h2V155.8h-2ZM552.6 150.7h2V153.2h-2ZM561.3 192.5h2V205.9h-2ZM567.1 191.2h2V202.7h-2ZM572.9 177.8h2V194.7h-2ZM590.3 216.8h2V223.2h-2ZM599.0 222.0h2V232.2h-2ZM610.7 259.1h2V260.1h-2ZM613.6 256.2h2V260.0h-2ZM616.5 239.9h2V257.2h-2ZM619.4 238.0h2V240.6h-2ZM622.3 231.4h2V239.0h-2ZM628.1 231.0h2V233.2h-2ZM633.9 234.8h2V235.8h-2ZM639.7 234.8h2V257.2h-2ZM642.6 214.5h2V235.5h-2ZM651.3 230.4h2V232.9h-2ZM654.2 227.9h2V231.1h-2ZM657.1 221.5h2V229.2h-2ZM660.0 202.4h2V222.1h-2ZM662.9 201.1h2V202.1h-2ZM671.6 222.8h2V226.0h-2ZM689.0 236.7h2V253.8h-2ZM694.8 234.4h2V237.7h-2ZM697.8 234.2h2V235.2h-2ZM709.4 242.1h2V245.3h-2ZM712.3 239.7h2V242.5h-2ZM715.2 239.0h2V240.3h-2ZM721.0 237.0h2V242.0h-2ZM726.8 234.0h2V237.6h-2ZM729.7 221.0h2V234.4h-2ZM732.6 221.2h2V222.2h-2ZM735.5 218.2h2V221.8h-2ZM738.4 211.0h2V219.8h-2ZM741.3 203.7h2V211.6h-2Z" fill="#ffffff"/>
</g>
<g><circle cx="750.9" cy="442.5" r="7.9" fill="#0c0d12" stroke="#a63fce" stroke-width="1.1"/><path d="M752.9 438.3L747.4 442.6L750.6 443.1L748.3 446.9L754.3 442.2L751.2 441.7Z" fill="#b44be0"/><circle cx="756.4" cy="437.1" r="3.1" fill="#131722"/><circle cx="756.4" cy="437.1" r="2.15" fill="#f23645"/></g>
<path d="M7.9 452.5H852.6" stroke="#2d3143" stroke-width="1"/>
<path d="M7.9 479.5H852.6M800.7 21.7V501.6" stroke="#686b74" stroke-width="1" fill="none"/>
<rect x="7.9" y="21.7" width="844.7" height="479.90000000000003" fill="none" stroke="#2f3035" stroke-width="1.1"/>
<path d="M7.9 224.3H800.7" stroke="#2962ff" stroke-width="1" stroke-dasharray="1.1 1.3" opacity="0.78"/>
<text x="807.7" y="59.3" font-size="9.1" fill="#c9ccd3" textLength="37.5" lengthAdjust="spacingAndGlyphs">5,250.00</text>
<text x="807.7" y="84.3" font-size="9.1" fill="#c9ccd3" textLength="37.5" lengthAdjust="spacingAndGlyphs">4,850.00</text>
<text x="807.7" y="111.0" font-size="9.1" fill="#c9ccd3" textLength="37.5" lengthAdjust="spacingAndGlyphs">4,450.00</text>
<text x="807.7" y="141.2" font-size="9.1" fill="#c9ccd3" textLength="37.5" lengthAdjust="spacingAndGlyphs">4,050.00</text>
<text x="807.7" y="174.9" font-size="9.1" fill="#c9ccd3" textLength="37.5" lengthAdjust="spacingAndGlyphs">3,650.00</text>
<text x="807.7" y="212.0" font-size="9.1" fill="#c9ccd3" textLength="37.5" lengthAdjust="spacingAndGlyphs">3,250.00</text>
<text x="807.7" y="242.8" font-size="9.1" fill="#c9ccd3" textLength="37.5" lengthAdjust="spacingAndGlyphs">2,950.00</text>
<text x="807.7" y="265.2" font-size="9.1" fill="#c9ccd3" textLength="37.5" lengthAdjust="spacingAndGlyphs">2,750.00</text>
<text x="807.7" y="289.3" font-size="9.1" fill="#c9ccd3" textLength="37.5" lengthAdjust="spacingAndGlyphs">2,550.00</text>
<text x="807.7" y="314.9" font-size="9.1" fill="#c9ccd3" textLength="37.5" lengthAdjust="spacingAndGlyphs">2,350.00</text>
<text x="807.7" y="343.6" font-size="9.1" fill="#c9ccd3" textLength="37.5" lengthAdjust="spacingAndGlyphs">2,150.00</text>
<text x="807.7" y="367.8" font-size="9.1" fill="#c9ccd3" textLength="37.5" lengthAdjust="spacingAndGlyphs">1,990.00</text>
<text x="807.7" y="392.9" font-size="9.1" fill="#c9ccd3" textLength="37.5" lengthAdjust="spacingAndGlyphs">1,840.00</text>
<text x="807.7" y="417.9" font-size="9.1" fill="#c9ccd3" textLength="37.5" lengthAdjust="spacingAndGlyphs">1,700.00</text>
<text x="807.7" y="441.6" font-size="9.1" fill="#c9ccd3" textLength="37.5" lengthAdjust="spacingAndGlyphs">1,580.00</text>
<rect x="801.2" y="218.2" width="48.6" height="22.8" rx="1" fill="#2962ff"/>
<text x="807.7" y="226.9" font-size="9.1" fill="#ffffff" textLength="37.5" lengthAdjust="spacingAndGlyphs">3,097.52</text>
<text x="807.7" y="237.2" font-size="9.1" fill="#c8d6ff" textLength="37.5" lengthAdjust="spacingAndGlyphs">13:04:44</text>
<rect x="803.3" y="24.9" width="46" height="20.1" rx="3.5" fill="#0f0f0f" stroke="#2e323d" stroke-width="1"/>
<text x="810.7" y="37.5" font-size="9.8" fill="#e0e3eb" textLength="25" lengthAdjust="spacingAndGlyphs">USDT</text>
<text transform="translate(16.5,494) scale(0.92,1)" font-size="9.6" fill="#c9ccd3" text-anchor="middle">May</text>
<text transform="translate(106.5,494) scale(0.92,1)" font-size="9.6" fill="#c9ccd3" text-anchor="middle">Jun</text>
<text transform="translate(193.5,494) scale(0.92,1)" font-size="9.6" fill="#c9ccd3" text-anchor="middle">Jul</text>
<text transform="translate(283.5,494) scale(0.92,1)" font-size="9.6" fill="#c9ccd3" text-anchor="middle">Aug</text>
<text transform="translate(373.5,494) scale(0.92,1)" font-size="9.6" fill="#c9ccd3" text-anchor="middle">Sep</text>
<text transform="translate(460.5,494) scale(0.92,1)" font-size="9.6" fill="#c9ccd3" text-anchor="middle">Oct</text>
<text transform="translate(550.5,494) scale(0.92,1)" font-size="9.6" fill="#c9ccd3" text-anchor="middle">Nov</text>
<text transform="translate(637.5,494) scale(0.92,1)" font-size="9.6" fill="#c9ccd3" text-anchor="middle">Dec</text>
<text transform="translate(727.5,494) scale(1.09,1)" font-size="9.6" font-weight="bold" fill="#e0e3eb" text-anchor="middle">2026</text>
<text x="8" y="16.0" font-size="9.6" fill="#ececec" textLength="310.5" lengthAdjust="spacingAndGlyphs">svillafuerte21 created with TradingView.com, Jan 09, 2026 10:55 UTC</text>
<text x="14.1" y="37.2" font-size="9.7" fill="#d5d8df" textLength="91.7" lengthAdjust="spacingAndGlyphs">Ethereum / TetherUS</text>
<text x="109.4" y="37.2" font-size="9.7" fill="#d5d8df" textLength="2.2" lengthAdjust="spacingAndGlyphs">·</text>
<text x="115.3" y="37.2" font-size="9.7" fill="#d5d8df" textLength="9.6" lengthAdjust="spacingAndGlyphs">1D</text>
<text x="129.2" y="37.2" font-size="9.7" fill="#d5d8df" textLength="2.2" lengthAdjust="spacingAndGlyphs">·</text>
<text x="134.8" y="37.2" font-size="9.7" fill="#d5d8df" textLength="34.2" lengthAdjust="spacingAndGlyphs">Binance</text>
<text x="175.4" y="37.2" font-size="9.7" fill="#d5d8df" textLength="6.2" lengthAdjust="spacingAndGlyphs">O</text>
<text x="183.1" y="37.2" font-size="9.7" fill="#2f66ff" textLength="37.9" lengthAdjust="spacingAndGlyphs">3,106.66</text>
<text x="226.8" y="37.2" font-size="9.7" fill="#d5d8df" textLength="6.4" lengthAdjust="spacingAndGlyphs">H</text>
<text x="234" y="37.2" font-size="9.7" fill="#2f66ff" textLength="37.5" lengthAdjust="spacingAndGlyphs">3,148.41</text>
<text x="276.9" y="37.2" font-size="9.7" fill="#d5d8df" textLength="4.8" lengthAdjust="spacingAndGlyphs">L</text>
<text x="282.7" y="37.2" font-size="9.7" fill="#2f66ff" textLength="37.5" lengthAdjust="spacingAndGlyphs">3,067.44</text>
<text x="326.6" y="37.2" font-size="9.7" fill="#d5d8df" textLength="6.6" lengthAdjust="spacingAndGlyphs">C</text>
<text x="333.9" y="37.2" font-size="9.7" fill="#2f66ff" textLength="37.1" lengthAdjust="spacingAndGlyphs">3,097.52</text>
<text x="377.8" y="37.2" font-size="9.7" fill="#2f66ff" textLength="67.8" lengthAdjust="spacingAndGlyphs">−9.13 (−0.29%)</text>
<g fill="#d6d6d6"><path d="M8.9 518.9H19.2V531H14V524H8.9Z"/><circle cx="22.4" cy="521.4" r="2.4"/><path d="M26.2 518.9H32.7L27.9 531H21.9Z"/></g>
<text x="38.3" y="531" font-size="16.3" font-weight="bold" fill="#d6d6d6" textLength="95.8" lengthAdjust="spacingAndGlyphs">TradingView</text>
</svg>
</body></html>
